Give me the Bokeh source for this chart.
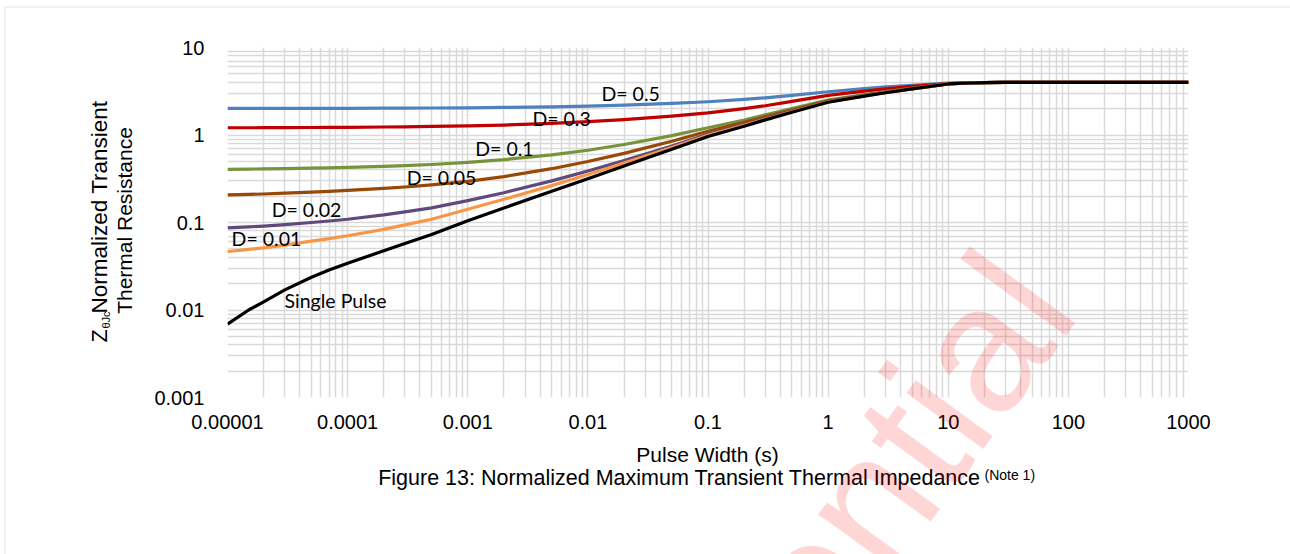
import math

from bokeh.plotting import figure
from bokeh.layouts import column
from bokeh.models import (Range1d, FixedTicker, CustomJSTickFormatter, Label,
                          BoxAnnotation, ColumnDataSource)
from bokeh.core.properties import value
from bokeh.embed import file_html
from bokeh.resources import INLINE

# ---- data -------------------------------------------------------------
pulse_width = [1e-5, 1.5e-5, 2e-5, 3e-5, 5e-5, 7e-5, 1e-4, 2e-4, 3e-4, 5e-4,
               1e-3, 2e-3, 5e-3, 1e-2, 2e-2, 5e-2, 0.1, 0.2, 0.3, 0.5,
               1, 2, 3, 5, 10, 15, 20, 30, 50, 100, 1000]

z_d050 = [2.01, 2.01, 2.012, 2.014, 2.016, 2.018, 2.02, 2.025, 2.03, 2.035,
          2.045, 2.065, 2.10, 2.14, 2.20, 2.30, 2.40, 2.55, 2.66, 2.83,
          3.12, 3.40, 3.55, 3.70, 3.91, 3.96, 3.98, 3.99, 4.0, 4.0, 4.0]
z_d030 = [1.21, 1.21, 1.212, 1.215, 1.218, 1.221, 1.225, 1.234, 1.241, 1.252,
          1.274, 1.30, 1.355, 1.42, 1.50, 1.64, 1.79, 2.00, 2.16, 2.42,
          2.84, 3.17, 3.37, 3.60, 3.88, 3.95, 3.98, 3.99, 4.0, 4.0, 4.0]
z_d010 = [0.405, 0.408, 0.410, 0.413, 0.418, 0.422, 0.427, 0.438, 0.446, 0.460,
          0.487, 0.523, 0.593, 0.670, 0.778, 0.985, 1.21, 1.48, 1.70, 2.00,
          2.50, 2.89, 3.13, 3.42, 3.85, 3.94, 3.97, 3.99, 4.0, 4.0, 4.0]
z_d005 = [0.2066, 0.2095, 0.2118, 0.2162, 0.2225, 0.2272, 0.2326, 0.2451, 0.2546, 0.2694,
          0.295, 0.335, 0.412, 0.498, 0.616, 0.848, 1.105, 1.397, 1.616, 1.929,
          2.452, 2.841, 3.088, 3.392, 3.839, 3.93, 3.97, 3.99, 4.0, 4.0, 4.0]
z_d002 = [0.087, 0.089, 0.091, 0.0945, 0.100, 0.104, 0.109, 0.122, 0.132, 0.147,
          0.178, 0.219, 0.299, 0.388, 0.510, 0.750, 1.02, 1.315, 1.54, 1.864,
          2.403, 2.804, 3.059, 3.373, 3.833, 3.93, 3.97, 3.99, 4.0, 4.0, 4.0]
z_d001 = [0.0466, 0.0492, 0.0512, 0.0552, 0.0612, 0.0655, 0.0705, 0.0835, 0.094, 0.109,
          0.142, 0.184, 0.264, 0.353, 0.478, 0.720, 0.990, 1.287, 1.515, 1.842,
          2.386, 2.792, 3.05, 3.366, 3.832, 3.93, 3.97, 3.99, 4.0, 4.0, 4.0]
z_single = [0.0069, 0.0100, 0.0124, 0.0170, 0.0237, 0.0286, 0.0343, 0.0475, 0.0575, 0.073,
            0.105, 0.1465, 0.2275, 0.317, 0.442, 0.687, 0.96, 1.26, 1.49, 1.82,
            2.37, 2.78, 3.04, 3.36, 3.83, 3.93, 3.97, 3.99, 4.0, 4.0, 4.0]

series_names = ["D= 0.5", "D= 0.3", "D= 0.1", "D= 0.05", "D= 0.02", "D= 0.01", "Single Pulse"]
series_values = [z_d050, z_d030, z_d010, z_d005, z_d002, z_d001, z_single]
series_colors = ["#4F81BD", "#C00000", "#77933C", "#984807", "#604A7B", "#F79646", "#000000"]

# where each curve name is written (data coordinates)
name_x = [0.0227, 0.00604, 0.00202, 0.000605, 4.55e-5, 2.11e-5, 7.93e-5]
name_y = [2.98, 1.545, 0.701, 0.327, 0.141, 0.0656, 0.01285]

x_tick_values = [1e-5, 1e-4, 1e-3, 1e-2, 1e-1, 1, 10, 100, 1000]
x_tick_labels = ["0.00001", "0.0001", "0.001", "0.01", "0.1", "1", "10", "100", "1000"]
y_tick_values = [1e-3, 1e-2, 1e-1, 1, 10]
y_tick_labels = ["0.001", "0.01", "0.1", "1", "10"]

# ---- layout -----------------------------------------------------------
W, H = 1290, 554
LEFT, RIGHT, TOP, BOTTOM = 227, 102, 47, 157

GRID = "#d9d9d9"
ARIAL = "Liberation Sans"

p = figure(width=W, height=H, x_axis_type="log", y_axis_type="log",
           x_range=Range1d(1e-5, 1000), y_range=Range1d(1e-3, 10),
           output_backend="svg", toolbar_location=None,
           min_border_left=LEFT, min_border_right=RIGHT,
           min_border_top=TOP, min_border_bottom=BOTTOM,
           frame_align=False)
p.background_fill_color = "white"
p.border_fill_color = "white"
p.outline_line_color = None


def minor_positions(lo_exp, hi_exp):
    return [m * 10.0 ** k for k in range(lo_exp, hi_exp) for m in range(2, 10)]


x_ticker = FixedTicker(ticks=x_tick_values, minor_ticks=minor_positions(-5, 3))
y_ticker = FixedTicker(ticks=y_tick_values, minor_ticks=minor_positions(-3, 1))

fmt_code = """
const i = vals.findIndex(v => Math.abs(Math.log10(v) - Math.log10(tick)) < 1e-6);
return i < 0 ? "" : labs[i];
"""
p.xaxis.ticker = x_ticker
p.yaxis.ticker = y_ticker
p.xgrid.ticker = x_ticker
p.ygrid.ticker = y_ticker
p.xaxis.formatter = CustomJSTickFormatter(args=dict(vals=x_tick_values, labs=x_tick_labels), code=fmt_code)
p.yaxis.formatter = CustomJSTickFormatter(args=dict(vals=y_tick_values, labs=y_tick_labels), code=fmt_code)

for ax in (p.xaxis[0], p.yaxis[0]):
    ax.axis_line_color = None
    ax.major_tick_line_color = None
    ax.minor_tick_line_color = None
    ax.major_tick_out = 0
    ax.major_tick_in = 0
    ax.major_label_text_font = ARIAL
    ax.major_label_text_font_size = "20px"
    ax.major_label_text_color = "#000000"
p.yaxis.major_label_standoff = 19
p.xaxis.major_label_standoff = 13

for g in (p.xgrid[0], p.ygrid[0]):
    g.grid_line_color = GRID
    g.grid_line_width = 1.5
    g.minor_grid_line_color = GRID
    g.minor_grid_line_width = 1.5

# ---- curves -----------------------------------------------------------
for vals, color in zip(series_values, series_colors):
    p.line(pulse_width, vals, line_color=color, line_width=3.2,
           line_join="round", line_cap="butt")

names_src = ColumnDataSource(dict(x=name_x, y=name_y, text=series_names))
p.text(x="x", y="y", text="text", source=names_src,
       text_font=value("Lato"), text_font_size="19.5px", text_color="#000000",
       text_align="center", text_baseline="middle")

# ---- page layer: titles, border and watermark in page pixels ------------
page = figure(width=W, height=H, x_range=Range1d(0, W), y_range=Range1d(H, 0),
              x_axis_location=None, y_axis_location=None,
              output_backend="svg", toolbar_location=None,
              min_border=0, background_fill_color=None, border_fill_color=None,
              outline_line_color=None, frame_align=False)
page.grid.visible = False
page.styles = {"margin-top": f"-{H}px"}

BASELINE_SHIFT = 0.37  # Label's alphabetic anchor sits this many em above the drawn baseline


def page_label(x, y, text, size, angle=0.0, **kw):
    """Place text whose baseline starts/centres at page pixel (x, y)."""
    kw.setdefault("text_font", ARIAL)
    kw.setdefault("text_color", "#000000")
    a = math.radians(angle)
    d = BASELINE_SHIFT * size
    page.add_layout(Label(x=x - d * math.sin(a), y=y - d * math.cos(a), text=text,
                          angle=angle, angle_units="deg", text_font_size=f"{size}px",
                          text_baseline="alphabetic", **kw))


# page border
page.add_layout(BoxAnnotation(left=4.5, right=W + 50, top=6.5, bottom=H + 50,
                              fill_alpha=0, line_color="#a6a6a6", line_width=1))

# y axis title, written bottom to top
page_label(107, 342, "Z", 21.5, angle=90, text_align="left")
page_label(110, 328, "θJc", 11, angle=90, text_align="left")
page_label(107, 313, "Normalized Transient", 22.5, angle=90, text_align="left")
page_label(132, 220, "Thermal Resistance", 21, angle=90, text_align="center")

# x axis title and caption
page_label(707, 462, "Pulse Width (s)", 21, text_align="center")
page_label(679, 485, "Figure 13: Normalized Maximum Transient Thermal Impedance", 21.5,
           text_align="center")
page_label(984, 480, "(Note 1)", 14, text_align="left")

# watermark
page_label(1085, 315, "Confidential", 180, angle=54,
           text_color="#ff0000", text_alpha=0.16, text_align="right")

layout = column(p, page)
open("out.html", "w").write(file_html(layout, INLINE))
